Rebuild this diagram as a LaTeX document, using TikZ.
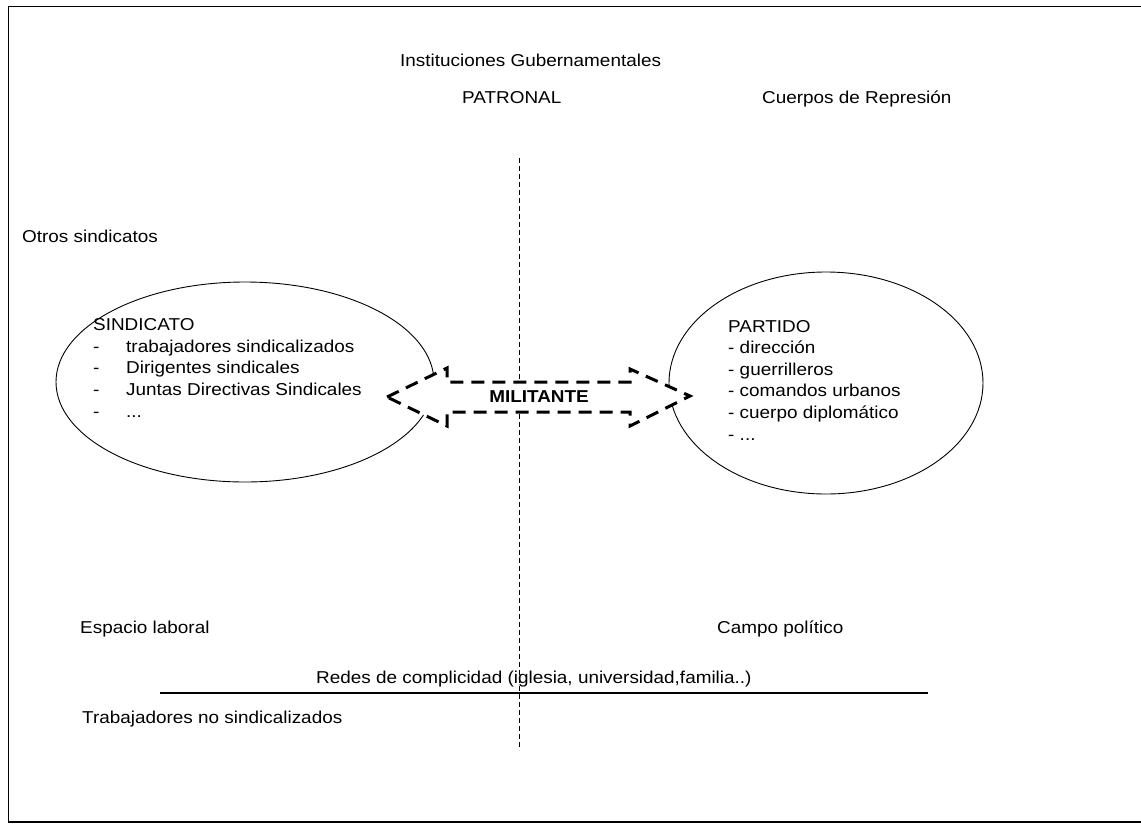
\documentclass[tikz,border=0pt]{standalone}
\usepackage{fontspec}
\setmainfont[FakeStretch=1.1]{Liberation Sans}
\usetikzlibrary{shapes.geometric}
\tikzset{
  lbl/.style={anchor=base west, inner sep=0pt, font=\fontsize{17.2}{21.6}\selectfont},
  listtxt/.style={lbl, align=left},
  oval/.style={draw, ellipse, line width=0.9pt, inner sep=0pt},
  divider/.style={line width=1pt, dash pattern=on 5pt off 3pt},
  bigarrow/.style={fill=white, line width=3pt, dash pattern=on 13pt off 8pt, line join=miter},
  frame/.style={line width=1.6pt}
}
\begin{document}
\begin{tikzpicture}[x=1pt,y=-1pt]
\useasboundingbox (0,0) rectangle (1141,823);

% page frame (open on the right)
\draw[frame] (1141,6.5) -- (8.5,6.5) -- (8.5,822) -- (1141,822);

% vertical divider
\coordinate (dtop) at (519,158);
\coordinate (dbot) at (519,750);
\draw[divider] (dtop) -- (dbot);

% top labels
\node[lbl] (inst) at (400,66) {Instituciones Gubernamentales};
\node[lbl] (patr) at (462,103) {PATRONAL};
\node[lbl] (cuer) at (762,103) {Cuerpos de Represión};
\node[lbl] (otros) at (22,242) {Otros sindicatos};

% the two organisations
\node[oval, minimum width=378pt, minimum height=200pt] (sind) at (245,382) {};
\node[oval, minimum width=314pt, minimum height=222pt] (part) at (826,383) {};

% lists (anchored at the baseline of their last line)
\node[listtxt] (sindtxt) at (93,417) {SINDICATO\\
\makebox[33pt][l]{-}trabajadores sindicalizados\\
\makebox[33pt][l]{-}Dirigentes sindicales\\
\makebox[33pt][l]{-}Juntas Directivas Sindicales\\
\makebox[33pt][l]{-}...};

\node[listtxt] (parttxt) at (728,440) {PARTIDO\\
- dirección\\
- guerrilleros\\
- comandos urbanos\\
- cuerpo diplomático\\
- ...};

% double arrow between the organisations
\draw[bigarrow] (387,397) -- (447,368) -- (447,382) -- (630,382) -- (630,369)
  -- (690,396) -- (630,426) -- (630,412) -- (447,412) -- (447,426) -- cycle;
\node[inner sep=0pt, font=\fontsize{17.2}{21}\selectfont\bfseries] (mil) at (539,397) {MILITANTE};

% bottom labels
\node[lbl] (esp) at (80,633) {Espacio laboral};
\node[lbl] (campo) at (717,633) {Campo político};
\node[lbl] (redes) at (316,683) {Redes de complicidad (iglesia, universidad,familia..)};
\coordinate (hl) at (160,693);
\coordinate (hr) at (928,693);
\draw[line width=1.2pt] (hl) -- (hr);
\node[lbl] (trab) at (82,723) {Trabajadores no sindicalizados};
\end{tikzpicture}
\end{document}
